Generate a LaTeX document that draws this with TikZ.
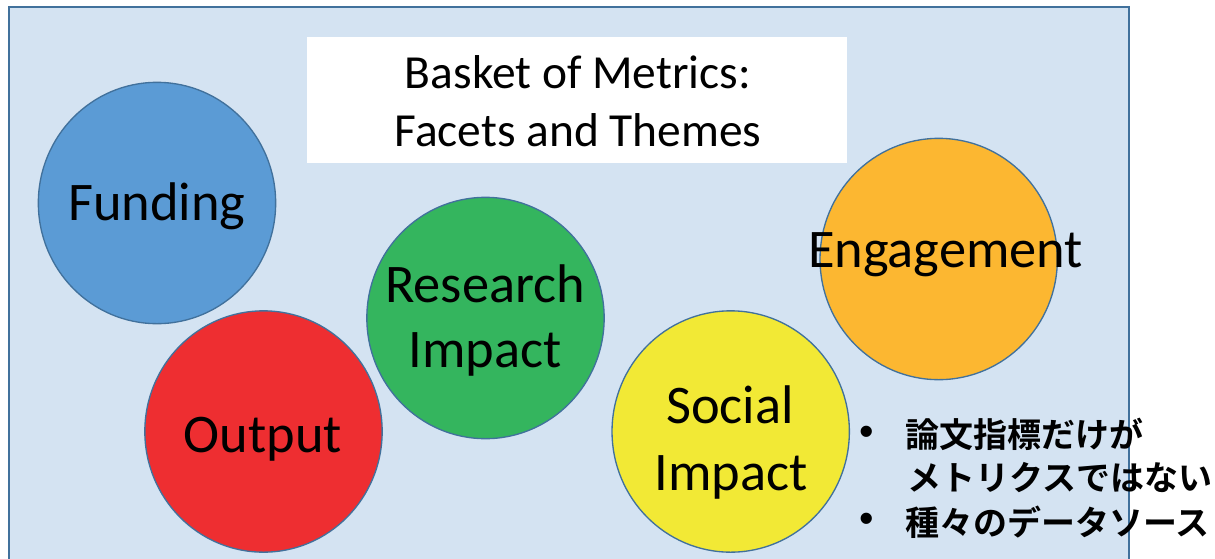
\documentclass[tikz,border=0pt]{standalone}
\usepackage{fontspec}
\setmainfont{Carlito}
\newfontfamily\bulletfont{Liberation Sans}
\newfontfamily\cjk{Noto Sans CJK JP}[BoldFont={Noto Sans CJK JP Bold}]
\usetikzlibrary{shapes.geometric}
\definecolor{bgblue}{HTML}{D4E3F2}
\definecolor{edgeblue}{HTML}{41719C}
\definecolor{cfund}{HTML}{5B9BD5}
\definecolor{cout}{HTML}{EE2E31}
\definecolor{cres}{HTML}{34B55E}
\definecolor{csoc}{HTML}{F2E935}
\definecolor{ceng}{HTML}{FCB731}
\tikzset{
  bubble/.style={ellipse, draw=edgeblue, line width=1pt, minimum width=178pt, minimum height=181pt, inner sep=0pt},
  bubbletext/.style={anchor=base, inner sep=0pt, font=\fontsize{40.8}{49}\selectfont},
  titletext/.style={anchor=base, inner sep=0pt, font=\fontsize{35.6}{43}\selectfont},
  jtext/.style={anchor=west, inner sep=0pt, font=\cjk\bfseries\fontsize{25.5}{30}\selectfont},
  bullettext/.style={anchor=center, inner sep=0pt, font=\bulletfont\fontsize{31}{36}\selectfont}
}
\begin{document}
\begin{tikzpicture}[x=0.75pt,y=-0.75pt]
\useasboundingbox (0,0) rectangle (1215,558);
\begin{scope}
\clip (0,0) rectangle (1215,558);
\draw[fill=bgblue, draw=edgeblue, line width=1.1pt] (9,7) rectangle (1129,600);
\end{scope}
\fill[white] (307,37) rectangle (847,163);
\node[titletext] (t1) at (578,88) {Basket of Metrics:};
\node[titletext] (t2) at (578,146) {Facets and Themes};
\node[bubble, fill=cfund] (fund) at (157,203) {};
\node[bubble, fill=cout] (out) at (263.5,431.5) {};
\node[bubble, fill=cres] (res) at (485.5,318) {};
\node[bubble, fill=csoc] (soc) at (730.7,431.5) {};
\node[bubble, fill=ceng] (eng) at (938.7,259) {};
\node[bubbletext] (lfund) at (157,220) {Funding};
\node[bubbletext] (lout) at (263,452) {Output};
\node[bubbletext] (lres1) at (485,302) {Research};
\node[bubbletext] (lres2) at (485,367) {Impact};
\node[bubbletext] (lsoc1) at (730,423) {Social};
\node[bubbletext] (lsoc2) at (731,490) {Impact};
\node[bubbletext] (leng) at (945.5,267) {Engagement};
\node[bullettext] (b1) at (867,436) {•};
\node[bullettext] (b2) at (867,523) {•};
\node[jtext] (j1) at (905,434) {論文指標だけが};
\node[jtext] (j2) at (907,478) {メトリクスではない};
\node[jtext] (j3) at (905,522) {種々のデータソース};
\end{tikzpicture}
\end{document}
